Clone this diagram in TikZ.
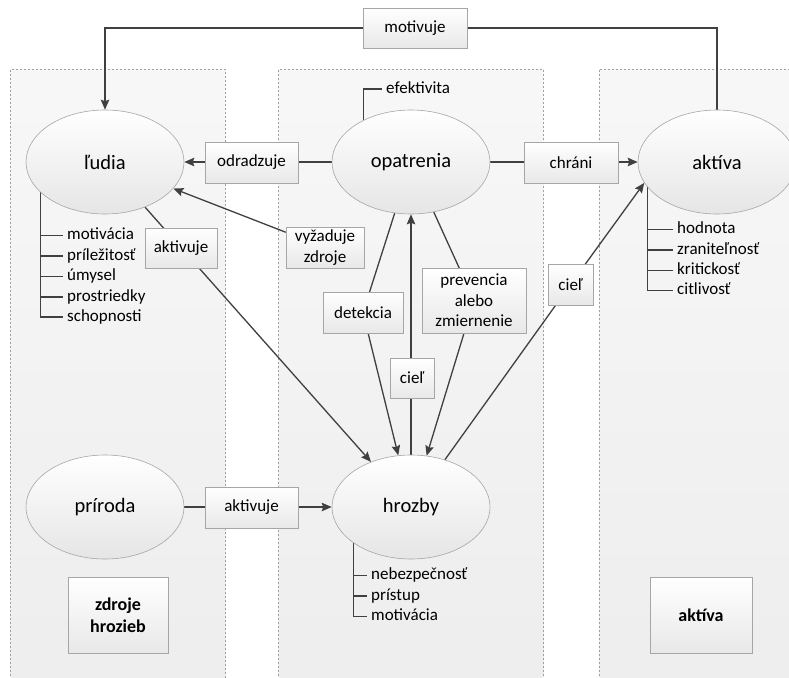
\documentclass[tikz,border=0pt]{standalone}
\usepackage{fontspec}
\setmainfont{Carlito}
\usetikzlibrary{shapes.geometric,arrows.meta,shadows}
\pgfdeclarelayer{back}
\pgfdeclarelayer{lines}
\pgfsetlayers{back,lines,main}
\definecolor{linec}{HTML}{404040}
\definecolor{bordc}{HTML}{A6A6A6}
\definecolor{dashc}{HTML}{A0A0A0}
\tikzset{
  panel/.style={draw=dashc, line width=0.6pt, dash pattern=on 2pt off 2pt, top color=white!97!black, bottom color=white!93!black},
  ell/.style={ellipse, draw=bordc, line width=0.6pt, top color=white, bottom color=white!90!black, minimum width=158pt, minimum height=104pt, inner sep=0pt, font=\fontsize{20.5}{24}\selectfont},
  lbox/.style={rectangle, draw=bordc, line width=0.6pt, top color=white, bottom color=white!91!black, inner sep=0pt, align=center, font=\fontsize{17}{20.5}\selectfont, drop shadow={opacity=0.18, shadow xshift=1.2pt, shadow yshift=-1.2pt}},
  bbox/.style={lbox, font=\fontsize{18}{22}\selectfont\bfseries},
  attr/.style={anchor=west, inner xsep=4pt, inner ysep=0pt, text height=11pt, text depth=3pt, font=\fontsize{17}{20}\selectfont},
  conn/.style={draw=linec, line width=1.3pt},
  arr/.style={-{Stealth[length=10pt, width=8.5pt, inset=1.5pt]}}
}
\begin{document}
\begin{tikzpicture}[x=1pt, y=-1pt]
\clip (0,0) rectangle (789,677);
\useasboundingbox (0,0) rectangle (789,677);
\begin{pgfonlayer}{back}
  \fill[white] (0,0) rectangle (789,677);
  \path[panel] (10.5,69.5) rectangle (225.5,700);
  \path[panel] (278.5,69.5) rectangle (543.5,700);
  \path[panel] (599.5,69.5) rectangle (820,700);
\end{pgfonlayer}

% ellipses
\node[ell] (ludia) at (105,162) {ľudia};
\node[ell] (opat) at (411,162) {opatrenia};
\node[ell] (aktiva) at (717,162) {aktíva};
\node[ell] (priroda) at (105,507) {príroda};
\node[ell] (hrozby) at (411,507) {hrozby};

% label boxes
\node[lbox, minimum width=104pt, minimum height=40pt] (motiv) at (415,28) {motivuje};
\node[lbox, minimum width=93pt, minimum height=41pt] (odr) at (251.5,162.5) {odradzuje};
\node[lbox, minimum width=94pt, minimum height=41pt] (chr) at (571,162.5) {chráni};
\node[lbox, minimum width=78pt, minimum height=41pt] (vyz) at (325,247.5) {vyžaduje\\zdroje};
\node[lbox, minimum width=72pt, minimum height=40pt] (akt1) at (181,248) {aktivuje};
\node[lbox, minimum width=80pt, minimum height=41pt] (det) at (363,312.5) {detekcia};
\node[lbox, minimum width=104pt, minimum height=65pt] (prev) at (474,300.5) {prevencia\\alebo\\zmiernenie};
\node[lbox, minimum width=44pt, minimum height=40pt] (ciel1) at (412,378) {cieľ};
\node[lbox, minimum width=45pt, minimum height=41pt] (ciel2) at (570.5,284.5) {cieľ};
\node[lbox, minimum width=93pt, minimum height=41pt] (akt2) at (251.5,507.5) {aktivuje};
\node[bbox, minimum width=100pt, minimum height=76pt] (zdr) at (118,615) {zdroje\\hrozieb};
\node[bbox, minimum width=102pt, minimum height=76pt] (aktb) at (701,615) {aktíva};

% attributes
\node[attr] (efk) at (382,89) {efektivita};
\node[attr] (l1) at (63,235.5) {motivácia};
\node[attr] (l2) at (63,256) {príležitosť};
\node[attr] (l3) at (63,276.5) {úmysel};
\node[attr] (l4) at (63,297) {prostriedky};
\node[attr] (l5) at (63,317) {schopnosti};
\node[attr] (k1) at (673,229.5) {hodnota};
\node[attr] (k2) at (673,250) {zraniteľnosť};
\node[attr] (k3) at (673,270.5) {kritickosť};
\node[attr] (k4) at (673,290.5) {citlivosť};
\node[attr] (h1) at (367,575.5) {nebezpečnosť};
\node[attr] (h2) at (367,596) {prístup};
\node[attr] (h3) at (367,616.5) {motivácia};

\coordinate (lv) at (ludia.205.5);
\coordinate (kv) at (aktiva.200);
\coordinate (hv) at (hrozby.212);

\begin{pgfonlayer}{lines}
  \draw[conn, arr] (aktiva.north) |- (motiv.center) -| (ludia.north);
  \draw[conn, arr] (opat) -- (ludia);
  \draw[conn, arr] (opat) -- (aktiva);
  \draw[conn, arr] (vyz) -- (ludia);
  \draw[conn, arr] (ludia) -- (hrozby);
  \draw[conn, arr] (opat) -- (det.center) -- (hrozby);
  \draw[conn, arr] (opat) -- (prev.center) -- (hrozby);
  \draw[conn, arr] (hrozby) -- (opat);
  \draw[conn, arr] (hrozby) -- (ciel2.center) -- (aktiva.196);
  \draw[conn, arr] (priroda) -- (hrozby);
  \draw[conn, line width=1.1pt] (opat.139.5) |- (efk.west);
  \draw[conn, line width=1.1pt] (lv) |- (l5.west);
  \foreach \n in {l1,l2,l3,l4} \draw[conn, line width=1.1pt] (lv |- \n.west) -- (\n.west);
  \draw[conn, line width=1.1pt] (kv) |- (k4.west);
  \foreach \n in {k1,k2,k3} \draw[conn, line width=1.1pt] (kv |- \n.west) -- (\n.west);
  \draw[conn, line width=1.1pt] (hv) |- (h3.west);
  \foreach \n in {h1,h2} \draw[conn, line width=1.1pt] (hv |- \n.west) -- (\n.west);
\end{pgfonlayer}
\end{tikzpicture}
\end{document}
